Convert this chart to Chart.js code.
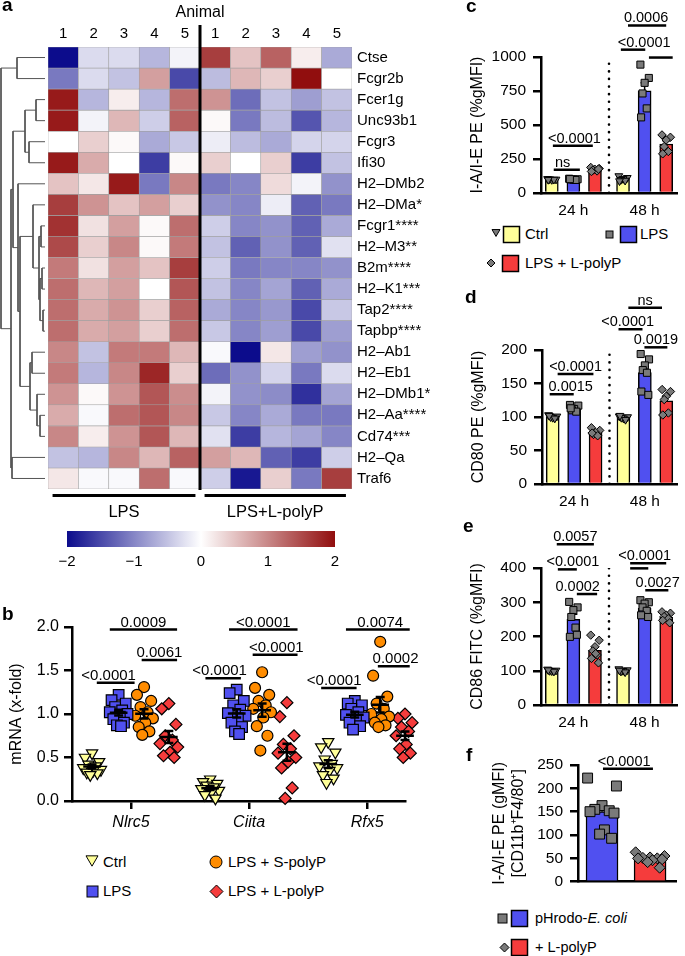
<!DOCTYPE html>
<html>
<head>
<meta charset="UTF-8" />
<title>MHC gene expression and polyP</title>
<script src="https://cdn.jsdelivr.net/npm/chart.js"></script>
<style>
  body { margin: 0; background: #fff; }
  #fig { position: relative; width: 685px; height: 956px; overflow: hidden;
         font-family: 'Liberation Sans', Arial, sans-serif; color: #000; }
  #fig canvas, #fig .t, #fig svg { position: absolute; }
  .t { white-space: nowrap; line-height: 20px; font-size: 15px; }
  .p { font-weight: bold; font-size: 19px; line-height: 1; white-space: nowrap; }
</style>
</head>
<body>
<div id="fig"></div>
<script>
// ---------- panel a: heatmap ----------
const genes = ['Ctse', 'Fcgr2b', 'Fcer1g', 'Unc93b1', 'Fcgr3', 'Ifi30', 'H2–DMb2', 'H2–DMa*',
  'Fcgr1****', 'H2–M3**', 'B2m****', 'H2–K1***', 'Tap2****', 'Tapbp****', 'H2–Ab1', 'H2–Eb1',
  'H2–DMb1*', 'H2–Aa****', 'Cd74***', 'H2–Qa', 'Traf6'];
const animals = ['1', '2', '3', '4', '5', '1', '2', '3', '4', '5'];
const groupNames = ['LPS', 'LPS+L-polyP'];
// z-scores, LPS animals 1-5 then LPS+L-polyP animals 1-5
const heat = [
  [-2.0, -0.3, -0.3, -0.6, -0.1,  1.6,  0.5,  1.3,  0.15, -0.7],
  [-1.1, -0.3, -0.5,  0.8, -1.5, -0.55, 0.6,  0.4,  2.0,   0.0],
  [ 1.9, -0.6,  0.15,-0.6,  1.2,  0.9, -1.2, -0.5, -0.8,  -0.5],
  [ 1.9, -0.1,  0.6, -0.4,  1.3,  0.05,-1.1, -0.55,-1.4,  -0.6],
  [ 0.0,  0.4,  0.05,-0.7, -0.45,-0.15,-0.55,-0.7, -0.35, -0.35],
  [ 1.9,  0.7,  0.0, -1.6,  0.05, 0.4,  0.0,  0.4, -1.6,  -0.5],
  [ 0.5,  0.2,  1.9, -1.1,  1.0, -1.1, -1.0,  0.3, -0.1,  -0.9],
  [ 1.6,  0.9,  0.5,  0.8,  0.4, -0.9, -1.0, -0.15,-1.3,  -1.1],
  [ 1.7,  0.25, 0.8,  0.05, 1.2, -0.4, -1.0, -0.9, -1.3,  -0.7],
  [ 1.5,  0.4,  1.0,  0.05, 1.1, -0.5, -1.3, -0.9, -1.3,  -0.25],
  [ 1.1,  0.25, 0.8,  0.5,  1.6, -0.4, -1.1, -1.0, -1.0,  -0.9],
  [ 1.2,  0.6,  0.8,  0.0,  1.4, -0.5, -1.0, -0.75,-1.3,  -0.7],
  [ 1.2,  0.7,  0.9,  0.4,  1.3, -0.7, -1.0, -0.85,-1.5,  -0.45],
  [ 1.2,  0.7,  0.8,  0.4,  1.2, -0.45,-1.0, -0.8, -1.5,  -0.8],
  [ 1.0, -0.5,  1.1,  1.1,  0.6, -0.05,-2.0,  0.2, -0.8,  -0.9],
  [ 1.1, -0.6,  1.0,  1.8,  0.4, -1.2, -0.9, -0.35,-1.1,  -0.3],
  [ 0.9,  0.05, 0.9,  1.4,  0.95,-0.1, -0.9, -0.95,-1.7,  -0.75],
  [ 0.7, -0.05, 1.2,  1.4,  1.0, -0.45,-1.0, -0.7, -1.1,  -1.1],
  [ 1.0,  0.15, 0.9,  1.4,  0.6, -0.25,-1.6, -0.6, -0.75, -1.0],
  [-0.5, -0.6,  1.0,  0.6,  1.3,  0.8,  0.6, -1.3, -1.6,  -0.4],
  [ 0.2, -0.05,-0.05, 1.2, -0.05,-0.4, -1.9,  0.4, -1.1,   1.6]
];
// hclust style merges: negative = gene row (1-based), positive = earlier merge; third = height
const dendroMerges = [
  [-1, -2, 28], [-3, -4, 9], [-5, -6, 16], [2, 3, 20], [-9, -10, 4], [-11, -12, 3],
  [-13, -14, 2], [6, 7, 5], [5, 8, 6], [-8, 9, 12], [-15, -16, 13], [-18, -19, 5],
  [-17, 12, 8], [11, 13, 15], [10, 14, 25], [-7, 15, 27], [4, 16, 32], [-20, -21, 33],
  [17, 18, 34], [1, 19, 44]
];
const colorTicks = [-2, -1, 0, 1, 2];

// ---------- panel b ----------
const bGenes = ['Nlrc5', 'Ciita', 'Rfx5'];
const bCtrl = [
  [0.55, 0.5, 0.45, 0.42, 0.4, 0.38, 0.36, 0.35, 0.33, 0.32, 0.3],
  [0.25, 0.22, 0.2, 0.18, 0.16, 0.14, 0.12, 0.1, 0.07, 0.03],
  [0.68, 0.62, 0.56, 0.48, 0.43, 0.4, 0.38, 0.35, 0.3, 0.26, 0.21]
];
const bLps = [
  [1.22, 1.16, 1.12, 1.08, 1.04, 1.02, 1.0, 0.97, 0.94, 0.9, 0.87, 0.86],
  [1.28, 1.24, 1.15, 1.1, 1.05, 1.01, 0.98, 0.95, 0.9, 0.85, 0.8, 0.77],
  [1.15, 1.12, 1.1, 1.06, 1.02, 0.99, 0.96, 0.93, 0.9, 0.86, 0.82]
];
const bSpolyP = [
  [1.31, 1.22, 1.15, 1.08, 1.02, 0.98, 0.95, 0.9, 0.85, 0.8, 0.76],
  [1.48, 1.3, 1.22, 1.15, 1.1, 1.06, 1.02, 0.96, 0.86, 0.75, 0.58],
  [1.83, 1.44, 1.2, 1.12, 1.06, 1.0, 0.97, 0.94, 0.9, 0.87, 0.85]
];
const bLpolyP = [
  [1.12, 1.06, 0.88, 0.75, 0.7, 0.66, 0.62, 0.56, 0.52, 0.5],
  [1.13, 0.97, 0.75, 0.65, 0.6, 0.55, 0.5, 0.45, 0.38, 0.15, 0.03],
  [1.0, 0.95, 0.9, 0.85, 0.8, 0.75, 0.7, 0.65, 0.6, 0.55, 0.5]
];
// [from x, to x, y, label, label x]
const bPvals = [
  [-0.29, 0.03, 1.36, '<0.0001', -0.19], [-0.18, 0.39, 1.97, '0.0009'], [0.09, 0.39, 1.62, '0.0061'],
  [0.63, 0.93, 1.41, '<0.0001', 0.75], [0.83, 1.41, 1.97, '<0.0001'], [1.03, 1.41, 1.68, '<0.0001', 1.23],
  [1.61, 1.91, 1.30, '<0.0001', 1.72], [1.82, 2.36, 1.97, '0.0074', 2.11], [2.09, 2.36, 1.55, '0.0002', 2.24]
];

// ---------- panels c-f (points per bar: 24 h Ctrl, LPS, L-polyP, 48 h Ctrl, LPS, L-polyP) ----------
const timeLabels = ['24 h', '48 h'];
const cPoints = [
  [104, 100, 97, 102, 99, 98], [105, 101, 98, 100, 96, 102], [188, 180, 174, 168, 162, 158, 176],
  [125, 112, 104, 98, 92, 88], [944, 846, 810, 732, 622, 556], [427, 410, 390, 341, 305, 288]
];
const cPvals = [
  [0.09, 1.3, 171, 'ns', 0.5], [0.05, 1.9, 348, '<0.0001', 1.05],
  [3.2, 4.33, 1054, '<0.0001', 4.28], [4.5, 5.6, 996, ''], [3.53, 5.3, 1232, '0.0006', 4.37]
];
const dPoints = [
  [103, 101, 99, 100, 98, 102], [118, 117, 112, 110, 108, 113], [84, 80, 77, 74, 72, 76],
  [101, 100, 98, 99, 96, 102], [194, 186, 177, 170, 166, 138, 133], [141, 138, 131, 126, 106, 103]
];
const dPvals = [
  [-0.14, 0.98, 134, '0.0015', 0.84], [0.23, 1.9, 164, '<0.0001'], [3.07, 4.19, 231, '<0.0001', 3.5],
  [4.28, 5.35, 204, '0.0019'], [3.53, 5.1, 263, 'ns']
];
const ePoints = [
  [104, 101, 99, 100, 98, 102], [301, 285, 277, 257, 226, 199, 205], [204, 189, 170, 158, 146, 136, 123, 150],
  [105, 102, 100, 98, 96, 101], [306, 300, 296, 285, 275, 262, 257], [272, 268, 262, 258, 252, 247, 240]
];
const ePvals = [
  [0.23, 1.95, 469, '0.0057'], [0.28, 1.16, 396, '<0.0001', 0.98], [1.16, 2.1, 324, '0.0002', 1.2],
  [3.63, 5.3, 414, '<0.0001', 4.3], [3.63, 4.47, 399, ''], [4.33, 5.4, 335, '0.0027', 4.9]
];
const fPoints = [
  [222, 205, 163, 155, 152, 150, 147, 111, 102, 93],
  [63, 55, 52, 51, 50, 50, 48, 46, 42, 30]
];
const fPvals = [[0.02, 1.06, 242, '<0.0001', 0.46]];

// ---------- setup ----------
const fig = document.getElementById('fig');
const FONT = "'Liberation Sans', Arial, sans-serif";
Chart.defaults.font.family = FONT;
Chart.defaults.font.size = 15;
Chart.defaults.color = '#000';
Chart.defaults.animation = false;
Chart.defaults.responsive = false;
Chart.defaults.events = [];
Chart.defaults.plugins.legend.display = false;
Chart.defaults.plugins.tooltip.enabled = false;

const YELLOW = '#ffff99', BLUE = '#5050f0', RED = '#f53c3c', ORANGE = '#ff8c00', GREY = '#7a7a7a';

const mean = a => a.reduce((s, v) => s + v, 0) / a.length;
const sem = a => {
  const m = mean(a);
  return Math.sqrt(a.reduce((s, v) => s + (v - m) ** 2, 0) / (a.length - 1) / a.length);
};

function makeCanvas(left, top, w, h) {
  const c = document.createElement('canvas');
  c.width = w; c.height = h;
  c.style.left = left + 'px'; c.style.top = top + 'px';
  c.style.width = w + 'px'; c.style.height = h + 'px';
  fig.appendChild(c);
  return c;
}

function heatColor(v) {
  const t = Math.min(Math.abs(v) / 2, 1);
  const end = v < 0 ? [12, 12, 140] : [145, 14, 14];
  return 'rgb(' + end.map(e => Math.round(255 + (e - 255) * t)).join(',') + ')';
}

// significance lines with p-value text
const brackets = {
  id: 'brackets',
  afterDraw(chart, args, opts) {
    if (!opts.items) return;
    const { ctx, scales: { x, y } } = chart;
    ctx.save();
    ctx.strokeStyle = '#000'; ctx.fillStyle = '#000'; ctx.lineWidth = 2.5;
    ctx.font = opts.size + 'px ' + FONT;
    ctx.textAlign = 'center'; ctx.textBaseline = 'alphabetic';
    opts.items.forEach(([x1, x2, v, label, tx]) => {
      const py = y.getPixelForValue(v);
      ctx.beginPath();
      ctx.moveTo(x.getPixelForValue(x1), py);
      ctx.lineTo(x.getPixelForValue(x2), py);
      ctx.stroke();
      if (label) ctx.fillText(label, x.getPixelForValue(tx !== undefined ? tx : (x1 + x2) / 2), py - 3);
    });
    ctx.restore();
  }
};

// SEM whisker above each bar
const errBars = {
  id: 'errBars',
  afterDatasetDraw(chart, args, opts) {
    if (!opts.points || args.meta.type !== 'bar') return;
    const { ctx, scales: { y } } = chart;
    ctx.save();
    ctx.strokeStyle = '#000'; ctx.lineWidth = 1.5;
    args.meta.data.forEach((el, i) => {
      const vals = opts.points[i];
      const top = y.getPixelForValue(mean(vals) + sem(vals));
      ctx.beginPath();
      ctx.moveTo(el.x, el.y); ctx.lineTo(el.x, top);
      ctx.moveTo(el.x - 4, top); ctx.lineTo(el.x + 4, top);
      ctx.stroke();
    });
    ctx.restore();
  }
};

// mean +/- SEM for scatter groups
const meanSem = {
  id: 'meanSem',
  afterDatasetsDraw(chart, args, opts) {
    if (!opts.groups) return;
    const { ctx, scales: { x, y } } = chart;
    ctx.save();
    ctx.strokeStyle = '#000'; ctx.lineWidth = 2.5;
    opts.groups.forEach(g => {
      const m = mean(g.vals), s = sem(g.vals);
      const px = x.getPixelForValue(g.x);
      const w = x.getPixelForValue(g.x + 0.075) - px, c = x.getPixelForValue(g.x + 0.038) - px;
      ctx.beginPath();
      ctx.moveTo(px - w, y.getPixelForValue(m)); ctx.lineTo(px + w, y.getPixelForValue(m));
      ctx.moveTo(px, y.getPixelForValue(m - s)); ctx.lineTo(px, y.getPixelForValue(m + s));
      ctx.moveTo(px - c, y.getPixelForValue(m - s)); ctx.lineTo(px + c, y.getPixelForValue(m - s));
      ctx.moveTo(px - c, y.getPixelForValue(m + s)); ctx.lineTo(px + c, y.getPixelForValue(m + s));
      ctx.stroke();
    });
    ctx.restore();
  }
};
Chart.register(brackets, errBars, meanSem);

// ---------- panel a ----------
const groupSpans = [[-0.35, 4.35], [4.65, 9.3]];
const heatExtras = {
  id: 'heatExtras',
  afterDraw(chart) {
    const { ctx, chartArea: a, scales: { x } } = chart;
    const mid = x.getPixelForValue(4.5);
    ctx.save();
    ctx.fillStyle = '#000';
    ctx.fillRect(mid - 1.5, 25, 3, a.bottom + 1 - 25);
    ctx.textAlign = 'center'; ctx.textBaseline = 'middle';
    ctx.font = '16px ' + FONT;
    ctx.fillText('Animal', mid, 13);
    ctx.font = '16.5px ' + FONT;
    groupSpans.forEach(([g0, g1], i) => {
      const x0 = x.getPixelForValue(g0), x1 = x.getPixelForValue(g1);
      ctx.fillRect(x0, a.bottom + 5, x1 - x0, 3);
      ctx.fillText(groupNames[i], (x0 + x1) / 2, a.bottom + 23);
    });
    ctx.restore();
  }
};

new Chart(makeCanvas(40, 0, 420, 520), {
  type: 'bar',
  data: {
    labels: animals,
    datasets: genes.map((g, r) => ({
      data: heat[r].map(() => [r, r + 1]),
      backgroundColor: heat[r].map(heatColor),
      borderColor: '#a0a0a0', borderWidth: 0.6, borderSkipped: false,
      barPercentage: 1, categoryPercentage: 1, grouped: false
    }))
  },
  options: {
    layout: { padding: { left: 8, top: 20, right: 0, bottom: 31 } },
    scales: {
      x: {
        position: 'top', grid: { display: false, drawTicks: false }, border: { display: false },
        ticks: { font: { size: 15 }, padding: 4, maxRotation: 0 },
        afterFit: s => { s.height = 27; }
      },
      y: {
        type: 'linear', position: 'right', reverse: true, min: 0, max: 21,
        grid: { display: false, drawTicks: false }, border: { display: false },
        afterBuildTicks: s => { s.ticks = genes.map((g, i) => ({ value: i + 0.5 })); },
        ticks: { font: { size: 15 }, padding: 5, autoSkip: false, callback: v => genes[Math.floor(v)] },
        afterFit: s => { s.width = 108; }
      }
    }
  },
  plugins: [heatExtras]
});

// dendrogram
function dendroSegments() {
  const pos = [];
  const node = k => k < 0 ? { y: -k - 0.5, h: 0 } : pos[k - 1];
  return dendroMerges.map(([a, b, h]) => {
    const A = node(a), B = node(b);
    pos.push({ y: (A.y + B.y) / 2, h });
    return [{ x: A.h, y: A.y }, { x: h, y: A.y }, { x: h, y: B.y }, { x: B.h, y: B.y }];
  });
}
new Chart(makeCanvas(0, 40, 50, 460), {
  type: 'scatter',
  data: {
    datasets: dendroSegments().map(seg => ({
      data: seg, showLine: true, borderColor: '#555', borderWidth: 1, pointRadius: 0, clip: false
    }))
  },
  options: {
    layout: { padding: { left: 0, top: 7, right: 5, bottom: 11 } },
    scales: {
      x: { display: false, min: 0, max: 45, reverse: true },
      y: { display: false, min: 0, max: 21, reverse: true }
    }
  }
});

// colour key
const colorbar = {
  id: 'colorbar',
  beforeDatasetsDraw(chart) {
    const { ctx, chartArea: a } = chart;
    const g = ctx.createLinearGradient(a.left, 0, a.right, 0);
    for (let v = -2; v <= 2.001; v += 0.25) g.addColorStop((v + 2) / 4, heatColor(v));
    ctx.save();
    ctx.fillStyle = g;
    ctx.fillRect(a.left, a.top, a.right - a.left, a.bottom - a.top);
    ctx.restore();
  }
};
new Chart(makeCanvas(50, 522, 310, 58), {
  type: 'scatter',
  data: { datasets: [] },
  options: {
    layout: { padding: { left: 17, top: 9, right: 25, bottom: 5 } },
    scales: {
      x: {
        type: 'linear', min: -2, max: 2,
        afterBuildTicks: s => { s.ticks = colorTicks.map(value => ({ value })); },
        ticks: { font: { size: 15 }, padding: 6, callback: v => String(v).replace('-', '−') },
        grid: { display: false, drawTicks: false }, border: { display: false },
        afterFit: s => { s.height = 28; }
      },
      y: { display: false, min: 0, max: 1 }
    }
  },
  plugins: [colorbar]
});

// ---------- panel b ----------
const bSets = [bCtrl, bLps, bSpolyP, bLpolyP];
const bStyle = [
  { style: 'triangle', rot: 180, r: 6.5, color: YELLOW },
  { style: 'rect', rot: 0, r: 7.5, color: BLUE },
  { style: 'circle', rot: 0, r: 5.5, color: ORANGE },
  { style: 'rectRot', rot: 0, r: 6, color: RED }
];
const bOffset = [-0.33, -0.105, 0.11, 0.32];
const bJitter = [0, -0.06, 0.06, -0.03, 0.03, -0.075, 0.075, 0.01, -0.045, 0.045, -0.015, 0.02];

new Chart(makeCanvas(0, 600, 440, 240), {
  type: 'scatter',
  data: {
    datasets: bSets.map((set, g) => ({
      data: set.flatMap((vals, k) => vals.map((v, j) => ({ x: k + bOffset[g] + bJitter[j % bJitter.length], y: v }))),
      pointStyle: bStyle[g].style, pointRotation: bStyle[g].rot, pointRadius: bStyle[g].r,
      pointBackgroundColor: bStyle[g].color, pointBorderColor: '#000', pointBorderWidth: 1.2, clip: false
    }))
  },
  options: {
    layout: { padding: { left: 0, top: 27, right: 35, bottom: 9 } },
    plugins: {
      brackets: { items: bPvals, size: 15 },
      meanSem: { groups: bSets.flatMap((set, g) => set.map((vals, k) => ({ x: k + bOffset[g], vals }))) }
    },
    scales: {
      x: {
        type: 'linear', min: -0.5, max: 2.32,
        afterBuildTicks: s => { s.ticks = bGenes.map((g, i) => ({ value: i })); },
        ticks: { font: { size: 16, style: 'italic' }, padding: 4, autoSkip: false, maxRotation: 0,
                 callback: v => bGenes[Math.round(v)] },
        grid: { drawOnChartArea: false, color: '#000', lineWidth: 2.5, tickLength: 8 },
        border: { color: '#000', width: 2.5 },
        afterFit: s => { s.height = 30; }
      },
      y: {
        min: 0, max: 2,
        ticks: { stepSize: 0.5, font: { size: 16 }, padding: 5, callback: v => v.toFixed(1) },
        grid: { drawOnChartArea: false, color: '#000', lineWidth: 2.5, tickLength: 8 },
        border: { color: '#000', width: 2.5 },
        title: { display: true, text: 'mRNA (x-fold)', font: { size: 16 }, padding: { top: 7, bottom: 0 } },
        afterFit: s => { s.width = 72; }
      }
    }
  }
});

// ---------- panels c-f ----------
const barJitter = [-0.3, 0.3, 0, -0.15, 0.15, -0.25, 0.25, 0.05, -0.05, 0.2];
function barPanel(p) {
  const means = p.points.map(mean);
  const datasets = [{
    type: 'bar', order: 2,
    data: p.pos.map((x, i) => ({ x, y: means[i] })),
    backgroundColor: p.colors, borderColor: '#000', borderWidth: 1.5, barThickness: p.barW
  }];
  p.points.forEach((vals, i) => datasets.push({
    type: 'line', showLine: false, order: 1, clip: false,
    data: vals.map((v, j) => ({ x: p.pos[i] + barJitter[j % barJitter.length] * p.spread, y: v })),
    pointStyle: p.styles[i], pointRotation: p.styles[i] === 'triangle' ? 180 : 0,
    pointRadius: p.radius[p.styles[i]], pointBackgroundColor: GREY,
    pointBorderColor: '#000', pointBorderWidth: 1
  }));
  if (p.dotX !== undefined) datasets.push({
    type: 'line', order: 3, data: [{ x: p.dotX, y: 0 }, { x: p.dotX, y: p.yMax }],
    borderColor: '#000', borderWidth: 2.6, borderDash: [0.1, 7.5], borderCapStyle: 'round', pointRadius: 0
  });
  new Chart(makeCanvas(...p.box), {
    type: 'bar',
    data: { datasets },
    options: {
      layout: { padding: p.pad },
      plugins: { brackets: { items: p.pvals, size: 14.5 }, errBars: { points: p.points } },
      scales: {
        x: {
          type: 'linear', min: p.xMin, max: p.xMax, offset: false,
          grid: { display: false, drawTicks: false }, border: { color: '#000', width: 2.5 },
          afterBuildTicks: s => { s.ticks = p.xTicks.map(value => ({ value })); },
          ticks: { display: !!p.xLabels, autoSkip: false, maxRotation: 0, padding: 8, font: { size: 15.5 },
                   callback: (v, i) => p.xLabels ? p.xLabels[i] : '' },
          afterFit: s => { s.height = p.xH; }
        },
        y: {
          min: 0, max: p.yMax,
          ticks: { stepSize: p.yStep, padding: 7, font: { size: 15.5 }, callback: v => String(v) },
          grid: { drawOnChartArea: false, color: '#000', lineWidth: 2.5, tickLength: 8 },
          border: { color: '#000', width: 2.5 },
          title: { display: true, text: p.title, font: { size: 16 }, padding: { top: p.titlePad, bottom: 0 } },
          afterFit: s => { s.width = p.yW; }
        }
      }
    }
  });
}

const sixColors = [YELLOW, BLUE, RED, YELLOW, BLUE, RED];
const sixStyles = ['triangle', 'rect', 'rectRot', 'triangle', 'rect', 'rectRot'];
const smallPts = { triangle: 4.5, rect: 5, rectRot: 4.2 };
const sixPos = [0, 1, 2, 3.3, 4.3, 5.3];
const common = { pos: sixPos, colors: sixColors, styles: sixStyles, radius: smallPts, barW: 13, spread: 0.65,
  xMin: -0.5, xMax: 5.8, dotX: 2.65, xTicks: [1, 4.3], xLabels: timeLabels, xH: 22 };

barPanel({ ...common, box: [468, 0, 217, 222], pad: { left: 0, top: 57, right: 8, bottom: 7 }, yW: 73,
  points: cPoints, pvals: cPvals, yMax: 1000, yStep: 250, title: 'I-A/I-E PE (%gMFI)', titlePad: 0 });
barPanel({ ...common, box: [468, 290, 217, 222], pad: { left: 0, top: 60, right: 8, bottom: 6 }, yW: 74,
  points: dPoints, pvals: dPvals, yMax: 200, yStep: 50, title: 'CD80 PE (%gMFI)', titlePad: 1 });
barPanel({ ...common, box: [468, 520, 217, 213], pad: { left: 0, top: 48, right: 8, bottom: 6 }, yW: 73,
  points: ePoints, pvals: ePvals, yMax: 400, yStep: 100, title: 'CD86 FITC (%gMFI)', titlePad: 0 });
barPanel({ box: [468, 748, 217, 150], pad: { left: 0, top: 17, right: 9, bottom: 3 }, yW: 110, xH: 2,
  pos: [0, 1], colors: [BLUE, RED], styles: ['rect', 'rectRot'], radius: { rect: 7, rectRot: 5.5 },
  barW: 32, spread: 1, xMin: -0.5, xMax: 1.54, xTicks: [], xLabels: null,
  points: fPoints, pvals: fPvals, yMax: 250, yStep: 50,
  title: ['I-A/I-E PE (gMFI)', '[CD11b⁺F4/80⁺]'], titlePad: 22 });

// ---------- legends and panel letters ----------
function shape(kind, cx, cy, s, fill, lw = 1) {
  const pad = lw, w = s + 2 * pad, h = s / 2;
  let inner;
  if (kind === 'tri') inner = `<polygon points="${pad},${pad + 0.07 * s} ${pad + s},${pad + 0.07 * s} ${pad + h},${pad + 0.93 * s}"/>`;
  else if (kind === 'rect') inner = `<rect x="${pad}" y="${pad}" width="${s}" height="${s}"/>`;
  else if (kind === 'circle') inner = `<circle cx="${pad + h}" cy="${pad + h}" r="${h}"/>`;
  else inner = `<polygon points="${pad + h},${pad} ${pad + s},${pad + h} ${pad + h},${pad + s} ${pad},${pad + h}"/>`;
  fig.insertAdjacentHTML('beforeend',
    `<svg width="${w}" height="${w}" style="left:${cx - w / 2}px;top:${cy - w / 2}px"><g fill="${fill}" stroke="#000" stroke-width="${lw}">${inner}</g></svg>`);
}
function text(html, x, cy, size = 15, cls = 't') {
  fig.insertAdjacentHTML('beforeend',
    `<div class="${cls}" style="left:${x}px;top:${cy - 10}px;font-size:${size}px">${html}</div>`);
}

// panel b legend
shape('tri', 92, 861, 12, YELLOW); text('Ctrl', 103, 862);
shape('circle', 216, 862, 12, ORANGE); text('LPS + S-polyP', 228, 862);
shape('rect', 92, 891, 11, BLUE); text('LPS', 103, 891);
shape('diamond', 216, 891, 13, RED); text('LPS + L-polyP', 228, 891);

// panel c legend
shape('tri', 496, 233, 8, GREY); shape('rect', 511, 234, 16, YELLOW, 1.5); text('Ctrl', 525, 234);
shape('rect', 609, 234, 7, GREY); shape('rect', 628, 234, 16, BLUE, 1.5); text('LPS', 640, 234);
shape('diamond', 491, 263, 8, GREY); shape('rect', 510, 263, 16, RED, 1.5); text('LPS + L-polyP', 525, 263);

// panel f legend
shape('rect', 502, 918, 9, GREY); shape('rect', 519, 918, 16, BLUE, 1.5); text('pHrodo-<i>E. coli</i>', 535, 918, 14.5);
shape('diamond', 504, 947, 9, GREY); shape('rect', 519, 947, 16, RED, 1.5); text('+ L-polyP', 535, 947, 14.5);

// panel letters
[['a', 2, 5], ['b', 2, 614], ['c', 466, 6], ['d', 465, 297], ['e', 463, 526], ['f', 466, 755]]
  .forEach(([l, x, cy]) => text(l, x, cy, 19, 't p'));
</script>
</body>
</html>
